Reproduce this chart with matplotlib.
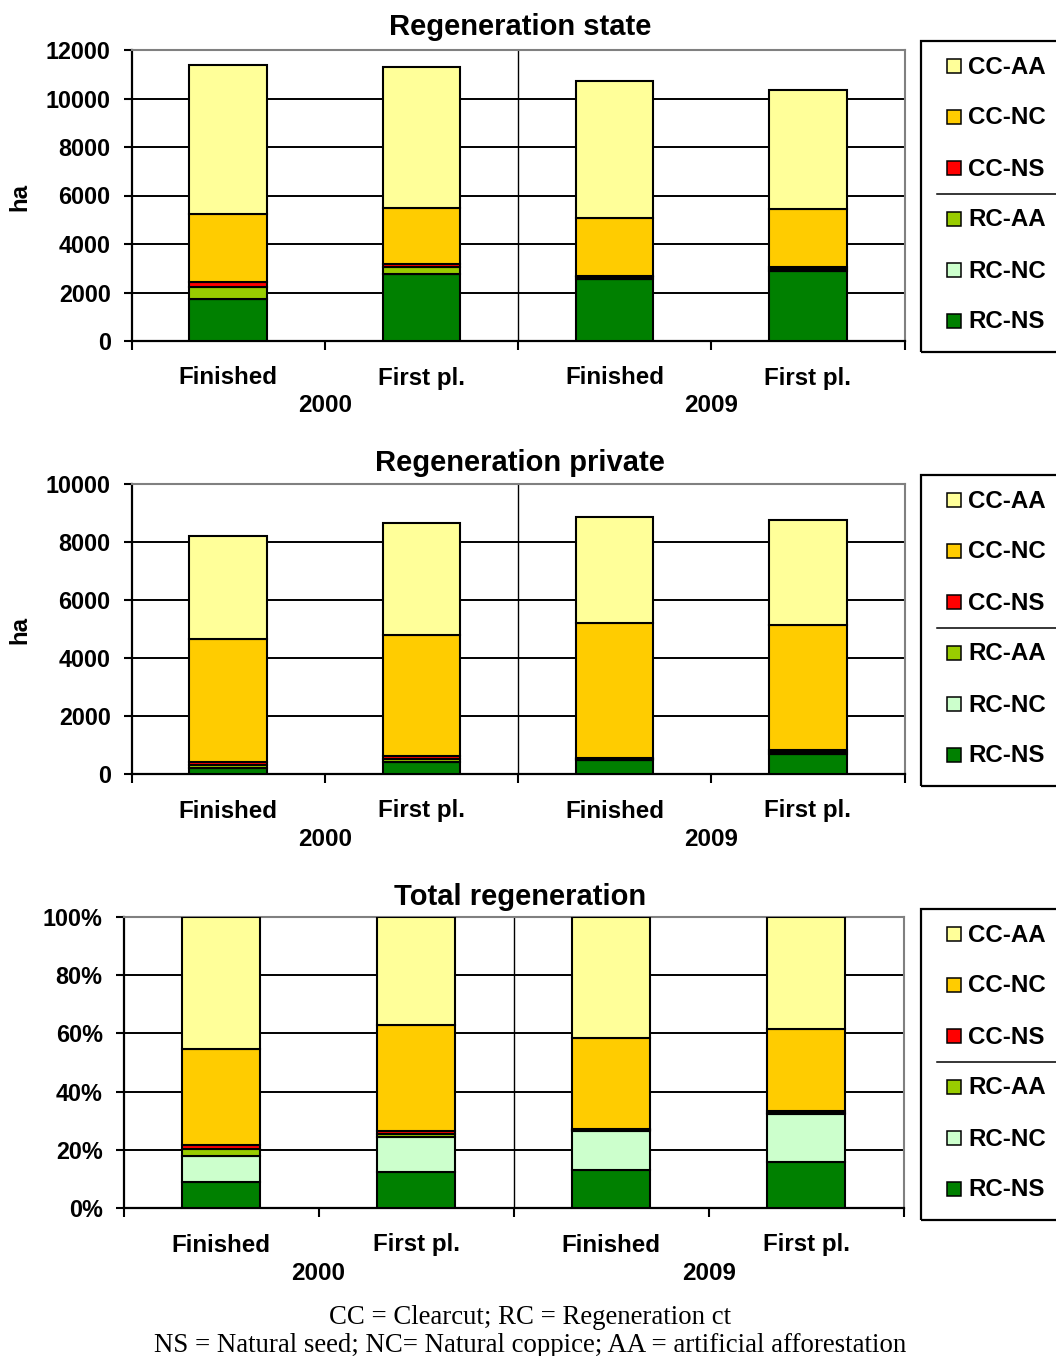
import matplotlib.pyplot as plt
from matplotlib.patches import Rectangle
from matplotlib.lines import Line2D
from matplotlib.ticker import FuncFormatter
import numpy as np

plt.rcParams["font.family"] = ["Liberation Sans", "DejaVu Sans"]
plt.rcParams["font.weight"] = "bold"

categories = ["Finished", "First pl.", "Finished", "First pl."]
years = ["2000", "2009"]

# stacking order, bottom to top
series = ["RC-NS", "RC-NC", "RC-AA", "CC-NS", "CC-NC", "CC-AA"]
colors = ["#008000", "#CCFFCC", "#99CC00", "#FF0000", "#FFCC00", "#FFFF99"]

# state forests, ha
state_rc_ns = [1720, 2750, 2540, 2900]
state_rc_nc = [0, 0, 0, 0]
state_rc_aa = [500, 310, 80, 80]
state_cc_ns = [230, 100, 80, 90]
state_cc_nc = [2790, 2310, 2360, 2370]
state_cc_aa = [6140, 5830, 5660, 4910]

# private forests, ha
private_rc_ns = [220, 430, 500, 690]
private_rc_nc = [0, 0, 0, 0]
private_rc_aa = [90, 90, 30, 80]
private_cc_ns = [90, 90, 30, 70]
private_cc_nc = [4260, 4180, 4630, 4300]
private_cc_aa = [3550, 3860, 3670, 3620]

# all forests, share in %
total_rc_ns = [9.0, 12.3, 13.1, 15.9]
total_rc_nc = [9.0, 12.0, 13.4, 16.3]
total_rc_aa = [2.4, 1.2, 0.4, 0.5]
total_cc_ns = [1.4, 0.9, 0.4, 0.5]
total_cc_nc = [32.7, 36.6, 31.2, 28.3]
total_cc_aa = [45.5, 37.0, 41.5, 38.5]

W, H = 1056, 1356
fig = plt.figure(figsize=(W / 100, H / 100), dpi=100)

FS = 17.4      # category, year and legend labels
TICK_FS = 16.8


def px_axes(x0, y0, x1, y1):
    return fig.add_axes([x0 / W, 1 - y1 / H, (x1 - x0) / W, (y1 - y0) / H])


def fy(y):
    return 1 - y / H


def draw_panel(box, title, title_y, stacks, ymax, ystep, fmt, ylabel, legend_top):
    x0, y0, x1, y1 = box
    ax = px_axes(x0, y0, x1, y1)
    x = np.arange(len(categories))
    bottom = np.zeros(len(categories))
    for vals, col in zip(stacks, colors):
        vals = np.array(vals, dtype=float)
        ax.bar(x, vals, 0.4, bottom=bottom, color=col, edgecolor="black",
               linewidth=1.5, zorder=3)
        bottom += vals
    ax.set_xlim(-0.5, 3.5)
    ax.set_ylim(0, ymax)
    yt = np.arange(0, ymax + ystep / 2, ystep)
    ax.set_yticks(yt)
    ax.yaxis.set_major_formatter(FuncFormatter(fmt))
    for v in yt[1:-1]:
        ax.axhline(v, color="black", lw=1.4, zorder=1)
    ax.axvline(1.5, color="black", lw=1.0, zorder=1)
    ax.set_xticks([-0.5, 0.5, 1.5, 2.5, 3.5])
    ax.set_xticklabels([])
    ax.tick_params(axis="y", direction="out", length=6, width=1.5,
                   labelsize=TICK_FS, pad=9)
    ax.tick_params(axis="x", direction="out", length=6.5, width=1.5)
    for s in ("left", "bottom"):
        ax.spines[s].set_color("black")
        ax.spines[s].set_linewidth(1.6)
    for s in ("top", "right"):
        ax.spines[s].set_color("#808080")
        ax.spines[s].set_linewidth(1.5)
    ah = y1 - y0
    tr = ax.get_xaxis_transform()
    for xi, lab in zip(x, categories):
        ax.text(xi, -37 / ah, lab, transform=tr, ha="center", va="center",
                fontsize=FS, fontweight="bold")
    for i, yr in enumerate(years):
        ax.text(0.5 + 2 * i, -65 / ah, yr, transform=tr, ha="center",
                va="center", fontsize=FS, fontweight="bold")
    fig.text(520 / W, fy(title_y), title, ha="center", va="center",
             fontsize=21, fontweight="bold")
    if ylabel:
        fig.text(20 / W, fy((y0 + y1) / 2 + 1), ylabel, rotation=90,
                 ha="center", va="center", fontsize=FS, fontweight="bold")

    # legend box, top entry first
    lt = legend_top
    fig.patches.append(Rectangle((921 / W, fy(lt + 311)), 150 / W, 311 / H,
                                 transform=fig.transFigure, fill=False,
                                 edgecolor="black", lw=1.6))
    fig.lines.append(Line2D([937 / W, 1056 / W], [fy(lt + 153)] * 2,
                            transform=fig.transFigure, color="black", lw=1.1))
    for k, (lab, col) in enumerate(zip(series[::-1], colors[::-1])):
        yc = lt + 25 + 51 * k
        fig.patches.append(Rectangle((947 / W, fy(yc + 7)), 14 / W, 14 / H,
                                     transform=fig.transFigure, facecolor=col,
                                     edgecolor="black", lw=1.1))
        fig.text(968 / W, fy(yc + 1), lab, ha="left", va="center",
                 fontsize=FS, fontweight="bold")
    return ax


draw_panel((131.5, 50, 904.5, 341), "Regeneration state", 27,
           [state_rc_ns, state_rc_nc, state_rc_aa, state_cc_ns, state_cc_nc,
            state_cc_aa],
           12000, 2000, lambda v, p: f"{v:.0f}", "ha", 41)

draw_panel((131.5, 484, 904.5, 774), "Regeneration private", 463,
           [private_rc_ns, private_rc_nc, private_rc_aa, private_cc_ns,
            private_cc_nc, private_cc_aa],
           10000, 2000, lambda v, p: f"{v:.0f}", "ha", 475)

draw_panel((123.5, 917, 904, 1208), "Total regeneration", 897,
           [total_rc_ns, total_rc_nc, total_rc_aa, total_cc_ns, total_cc_nc,
            total_cc_aa],
           100, 20, lambda v, p: f"{v:.0f}%", None, 909)

fig.text(530 / W, fy(1317), "CC = Clearcut; RC = Regeneration ct",
         family="Liberation Serif", fontweight="normal", fontsize=19.3,
         ha="center", va="center")
fig.text(530 / W, fy(1345),
         "NS = Natural seed; NC= Natural coppice; AA = artificial afforestation",
         family="Liberation Serif", fontweight="normal", fontsize=19.3,
         ha="center", va="center")

fig.savefig("out.png", dpi=100)
